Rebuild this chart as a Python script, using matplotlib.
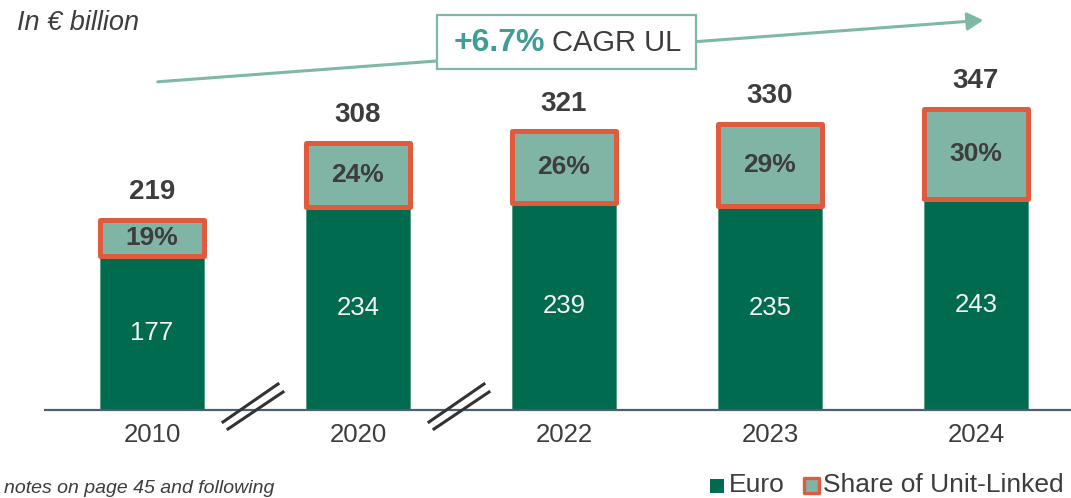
import numpy as np
import matplotlib
matplotlib.use('Agg')
import matplotlib.pyplot as plt
from matplotlib.patches import Rectangle, FancyArrowPatch
from matplotlib.lines import Line2D

# ---- data ----
years = ['2010', '2020', '2022', '2023', '2024']
euro = [177, 234, 239, 235, 243]
total = [219, 308, 321, 330, 347]
ul_share = [19, 24, 26, 29, 30]
cagr_label = '+6.7%'
cagr_text = 'CAGR UL'

# ---- style ----
GREEN = '#006B4F'
LIGHT = '#80B5A5'
ORANGE = '#E05B3D'
DARK = '#3D3D3D'
TEAL = '#3F9D95'
ARROW = '#7FB8A6'
AXIS = '#4D5F6E'

plt.rcParams['font.family'] = ['Liberation Sans', 'DejaVu Sans']

W, H = 1071, 498
fig = plt.figure(figsize=(W / 100, H / 100), dpi=100)


def px(x, y):
    return (x / W, 1 - y / H)


# axes: baseline at pixel y=410, categories spaced 206 px starting at 152
ax = fig.add_axes([45 / W, 88 / H, 1 - 45 / W, 410 / H])
xpos = np.arange(len(years))
ax.set_xlim((45 - 152) / 206, (1071 - 152) / 206)
ax.set_ylim(0, 410 / 0.868)

bw = 104 / 206
ul = [t - e for t, e in zip(total, euro)]

ax.bar(xpos, euro, width=bw, color=GREEN, edgecolor='#4F9A80', linewidth=0.6, zorder=2)
ulbars = ax.bar(xpos, ul, bottom=euro, width=bw, color=LIGHT, edgecolor=ORANGE,
                linewidth=3.6, zorder=3)
for p in ulbars:
    p.set_joinstyle('round')

for i in range(len(years)):
    ax.text(xpos[i], euro[i] / 2, str(euro[i]), ha='center', va='center',
            color='#F4F4F4', fontsize=18.5, zorder=4)
    ax.text(xpos[i], euro[i] + ul[i] / 2, f'{ul_share[i]}%', ha='center', va='center',
            color=DARK, fontsize=19, fontweight='bold', zorder=4)
    ax.annotate(str(total[i]), (xpos[i], total[i]), xytext=(0, 20),
                textcoords='offset points', ha='center', va='center',
                color=DARK, fontsize=20, fontweight='bold')

for s in ['top', 'right', 'left']:
    ax.spines[s].set_visible(False)
ax.spines['bottom'].set_color(AXIS)
ax.spines['bottom'].set_linewidth(1.6)
ax.set_yticks([])
ax.set_xticks(xpos, years)
ax.tick_params(axis='x', length=0, pad=9, labelsize=18.5, labelcolor=DARK)
ax.patch.set_alpha(0)

# break marks between 2010|2020 and 2020|2022
for cx in (255, 461):
    for (x1, y1, x2, y2) in [(-32, 422, 23, 384), (-27, 429, 28, 392)]:
        fig.add_artist(Line2D([(cx + x1) / W, (cx + x2) / W], [1 - y1 / H, 1 - y2 / H],
                              transform=fig.transFigure, color='#333333', lw=2.2))

# CAGR arrow
arr = FancyArrowPatch(px(155, 82), px(986, 20), transform=fig.transFigure,
                      arrowstyle='-|>,head_length=0.8,head_width=0.45',
                      mutation_scale=12, color=ARROW, lw=2.2)
fig.add_artist(arr)
box = Rectangle(px(437, 69), 259 / W, 54 / H, transform=fig.transFigure,
                facecolor='white', edgecolor=ARROW, lw=1.6, zorder=5)
fig.add_artist(box)
fig.text(*px(545, 43), cagr_label, ha='right', va='center', color=TEAL,
         fontsize=23, fontweight='bold', zorder=6)
fig.text(*px(552, 43), cagr_text, ha='left', va='center', color=DARK,
         fontsize=21, zorder=6)

# title & footnote
fig.text(*px(17, 23), 'In € billion', ha='left', va='center', color=DARK,
         fontsize=19.5, style='italic')
fig.text(*px(4, 493), 'notes on page 45 and following', ha='left', va='baseline',
         color=DARK, fontsize=14, style='italic')

# legend
fig.add_artist(Rectangle(px(710, 493), 14 / W, 14 / H, transform=fig.transFigure,
                         facecolor=GREEN, edgecolor='none'))
fig.text(*px(729, 485), 'Euro', ha='left', va='center', color=DARK, fontsize=19)
fig.add_artist(Rectangle(px(804, 493), 15 / W, 15 / H, transform=fig.transFigure,
                         facecolor=LIGHT, edgecolor=ORANGE, lw=2.4, joinstyle='round'))
fig.text(*px(823, 485), 'Share of Unit-Linked', ha='left', va='center', color=DARK,
         fontsize=19)

fig.savefig('out.png', dpi=100)
